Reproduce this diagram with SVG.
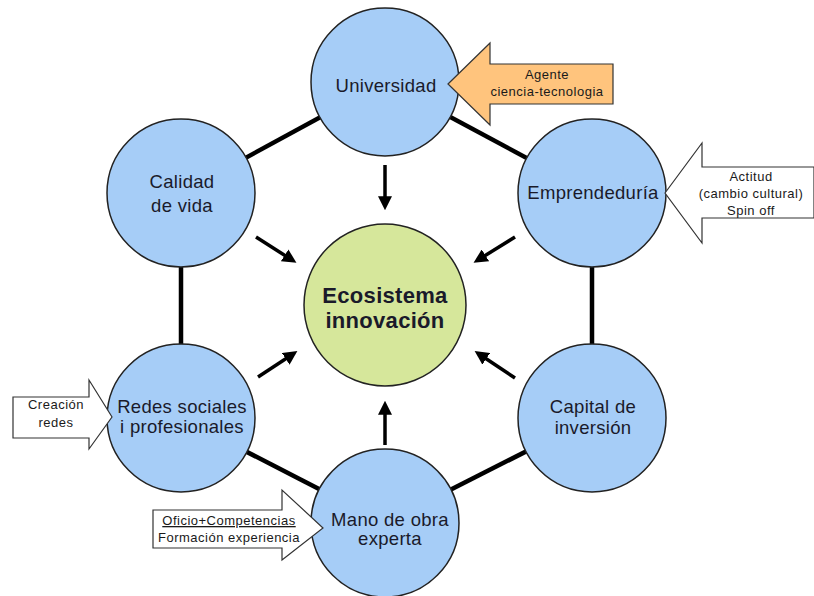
<svg xmlns="http://www.w3.org/2000/svg" width="814" height="596" viewBox="0 0 814 596">
<style>
.node{fill:#a6cdf7;stroke:#222;stroke-width:1.5}
.lbl{font-family:"Liberation Sans",Arial,sans-serif;font-size:18.5px;letter-spacing:0.3px;fill:#1a1a2a;text-anchor:middle}
.sm{font-family:"Liberation Sans",Arial,sans-serif;font-size:13px;letter-spacing:0.5px;fill:#1a1a1a;text-anchor:middle}
.edge{stroke:#000;stroke-width:4.5;fill:none}
.arr{stroke:#000;stroke-width:3.5;fill:none;marker-end:url(#ah)}
.big{stroke:#333;stroke-width:1.2}
</style>
<defs>
<marker id="ah" markerWidth="4" markerHeight="4" refX="2.5" refY="2" orient="auto" markerUnits="strokeWidth">
<path d="M0,0 L4,2 L0,4 z" fill="#000"/>
</marker>
</defs>
<rect width="814" height="596" fill="#fff"/>
<g id="connectors">
<line class="edge" x1="385" y1="82" x2="592" y2="193"/>
<line class="edge" x1="385" y1="82" x2="181" y2="193"/>
<line class="edge" x1="181" y1="193" x2="181" y2="418"/>
<line class="edge" x1="592" y1="193" x2="592" y2="418"/>
<line class="edge" x1="181" y1="418" x2="385" y2="523"/>
<line class="edge" x1="592" y1="418" x2="385" y2="523"/>
<line class="arr" x1="385" y1="165" x2="385" y2="205"/>
<line class="arr" x1="256" y1="237" x2="292" y2="260"/>
<line class="arr" x1="515" y1="237" x2="478" y2="260"/>
<line class="arr" x1="258" y1="377" x2="293" y2="354"/>
<line class="arr" x1="515" y1="378" x2="479" y2="354"/>
<line class="arr" x1="385" y1="445" x2="385" y2="406"/>
</g>
<g id="universidad"><circle class="node" cx="385" cy="82" r="74"/><text class="lbl" x="386" y="92">Universidad</text></g>
<g id="calidad"><circle class="node" cx="181" cy="193" r="74"/><text class="lbl" x="182" y="188">Calidad</text><text class="lbl" x="182" y="212">de vida</text></g>
<g id="emprendeduria"><circle class="node" cx="592" cy="193" r="74"/><text class="lbl" x="593" y="199">Emprendeduría</text></g>
<g id="redes"><circle class="node" cx="181" cy="418" r="74"/><text class="lbl" x="182" y="413">Redes sociales</text><text class="lbl" x="182" y="433">i profesionales</text></g>
<g id="capital"><circle class="node" cx="592" cy="418" r="74"/><text class="lbl" x="593" y="413">Capital de</text><text class="lbl" x="593" y="434">inversión</text></g>
<g id="mano"><circle class="node" cx="385" cy="523" r="74"/><text class="lbl" x="390" y="526">Mano de obra</text><text class="lbl" x="390" y="545">experta</text></g>
<g id="ecosistema"><circle cx="385" cy="305" r="81" fill="#d6e79b" stroke="#222" stroke-width="1.5"/><text class="lbl" x="385" y="303" style="font-size:22px;font-weight:bold;letter-spacing:0.3px">Ecosistema</text><text class="lbl" x="385" y="328" style="font-size:22px;font-weight:bold;letter-spacing:0.3px">innovación</text></g>
<g id="agente"><path class="big" fill="#ffc47d" d="M448,84 L490,43 L490,64 L613,64 L613,104 L490,104 L490,125 Z"/><text class="sm" x="547" y="79">Agente</text><text class="sm" x="547" y="96">ciencia-tecnologia</text></g>
<g id="actitud"><path class="big" fill="#fff" d="M665,193 L702,143 L702,167 L814,167 L814,218 L702,218 L702,243 Z"/><text class="sm" x="751" y="181">Actitud</text><text class="sm" x="751" y="198">(cambio cultural)</text><text class="sm" x="751" y="215">Spin off</text></g>
<g id="creacion"><path class="big" fill="#fff" d="M13,397 L89,397 L89,380 L112,417 L89,449 L89,438 L13,438 Z"/><text class="sm" x="56" y="409">Creación</text><text class="sm" x="56" y="427">redes</text></g>
<g id="oficio"><path class="big" fill="#fff" d="M153,510 L282,510 L282,490 L323,528 L282,560 L282,548 L153,548 Z"/><text class="sm" x="229" y="525" text-decoration="underline">Oficio+Competencias</text><text class="sm" x="229" y="542">Formación experiencia</text></g>
</svg>
